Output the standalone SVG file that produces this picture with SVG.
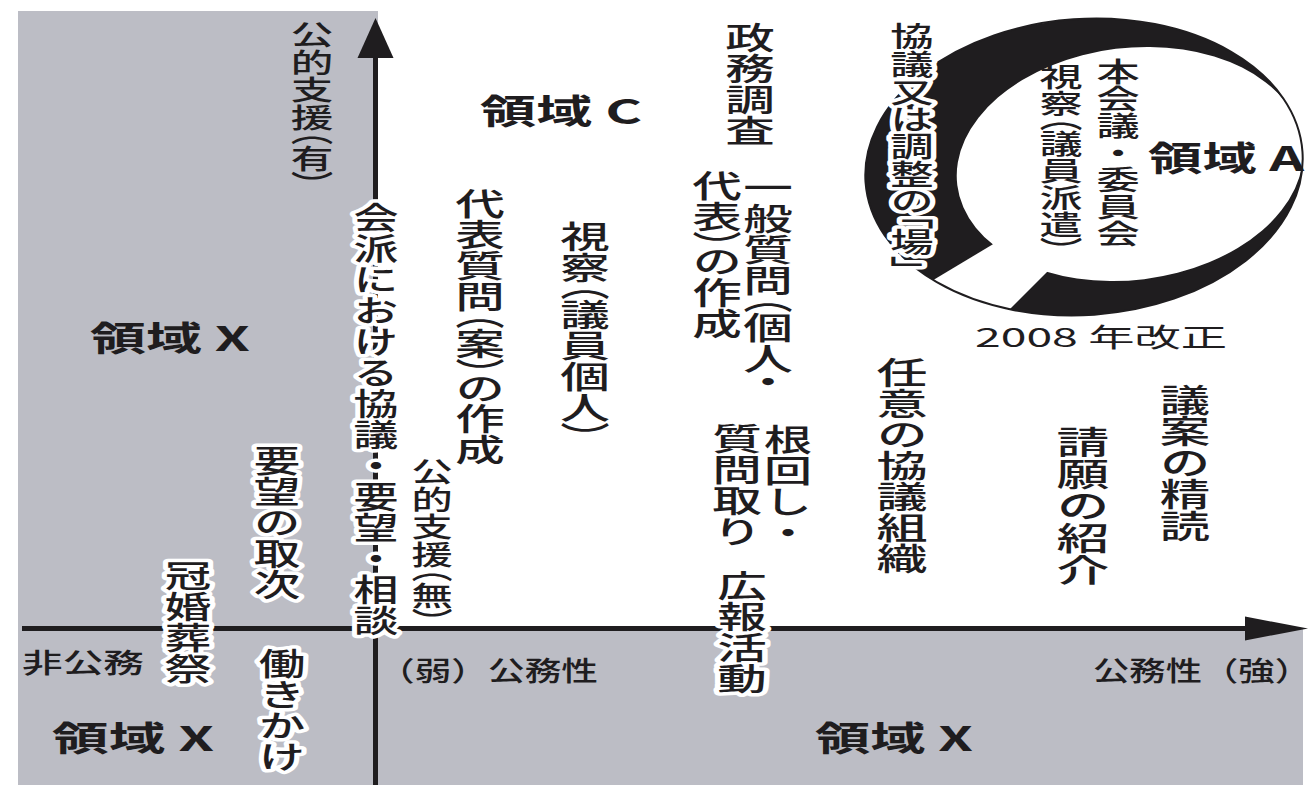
<svg xmlns="http://www.w3.org/2000/svg" width="1314" height="787" viewBox="0 0 1314 787">
<defs>
<style>
text{font-family:"Noto Sans CJK JP","Noto Sans CJK SC",sans-serif;fill:#1f1d1f;}
.v{writing-mode:vertical-rl;font-size:31px;font-weight:500;}
.p{font-feature-settings:"vpal" 1;}
.h{font-size:27px;font-weight:500;}
.b{font-size:34px;font-weight:700;}
.halo{stroke:#fff;stroke-width:7px;stroke-linejoin:round;paint-order:stroke fill;}
.gray{fill:#bcbdc5;}
.axis{stroke:#1f1d1f;stroke-width:5;fill:none;}
.ink{fill:#1f1d1f;}
</style>
<marker id="arrUp" markerUnits="userSpaceOnUse" markerWidth="40" markerHeight="36" refX="0" refY="18" orient="auto" viewBox="0 0 40 36" overflow="visible"><path d="M0,0 L40,18 L0,36 Z" class="ink"/></marker>
<marker id="arrRight" markerUnits="userSpaceOnUse" markerWidth="63" markerHeight="24" refX="0" refY="12" orient="auto" viewBox="0 0 63 24" overflow="visible"><path d="M0,0 L63,12 L0,24 Z" class="ink"/></marker>
</defs>
<rect x="0" y="0" width="1314" height="787" fill="#fff"/>
<g id="regions">
<rect class="gray" x="18" y="11" width="360" height="774"/>
<rect class="gray" x="18" y="628" width="1285" height="157"/>
</g>
<g id="connectors">
<line class="axis" x1="375.5" y1="785" x2="375.5" y2="58" marker-end="url(#arrUp)"/>
<line class="axis" x1="22" y1="628.5" x2="1245" y2="628.5" marker-end="url(#arrRight)"/>
</g>
<g id="ellipse-a">
<ellipse cx="1084" cy="167" rx="219" ry="148" transform="rotate(-4 1084 167)" class="ink"/>
<ellipse cx="1130" cy="164" rx="174" ry="116" transform="rotate(-7 1130 164)" fill="#fff"/>
<polygon points="1000,240 1053,266 1007,312 925,285" fill="#fff"/>
<ellipse cx="1084" cy="167" rx="219" ry="148" transform="rotate(-4 1084 167)" fill="none" stroke="#1f1d1f" stroke-width="2"/>
</g>
<g id="axis-labels">
<g id="n-kouteki-yu" transform="translate(312,21) scale(1.55,1)"><text class="v p" style="font-size:27.5px">公的支援（有）</text></g>
<text id="n-hikoumu" class="h" x="22" y="673" textLength="122" lengthAdjust="spacingAndGlyphs">非公務</text>
<text id="n-jaku" class="h" x="378" y="681" textLength="220" lengthAdjust="spacingAndGlyphs">（弱）公務性</text>
<text id="n-kyou" class="h" x="1093" y="681" textLength="218" lengthAdjust="spacingAndGlyphs">公務性（強）</text>
</g>
<g id="n-region-c"><text class="b" x="480" y="124" textLength="162" lengthAdjust="spacingAndGlyphs">領域 C</text></g>
<g id="n-region-x1"><text class="b" x="90" y="351" textLength="160" lengthAdjust="spacingAndGlyphs">領域 X</text></g>
<g id="n-region-x2"><text class="b" x="52" y="751" textLength="162" lengthAdjust="spacingAndGlyphs">領域 X</text></g>
<g id="n-region-x3"><text class="b" x="815" y="751" textLength="158" lengthAdjust="spacingAndGlyphs">領域 X</text></g>
<g id="n-region-a"><text class="b" x="1148" y="171" textLength="156" lengthAdjust="spacingAndGlyphs">領域 A</text></g>
<g id="n-2008"><text x="975" y="347" style="font-size:26px;font-weight:400" textLength="252" lengthAdjust="spacingAndGlyphs">2008 年改正</text></g>
<g id="n-kaiha" transform="translate(376,202) scale(1.45,1)"><text class="v halo">会派における協議・要望・相談</text></g>
<g id="n-daihyou" transform="translate(480,188) scale(1.6,1)"><text class="v p">代表質問（案）の作成</text></g>
<g id="n-shisatsu-kojin" transform="translate(585,221) scale(1.6,1)"><text class="v p">視察（議員個人）</text></g>
<g id="n-ippan" transform="translate(0,0)">
<g transform="translate(768,172) scale(1.6,1)"><text class="v p">一般質問（個人・</text></g>
<g transform="translate(717,170) scale(1.6,1)"><text class="v p">代表）の作成</text></g>
</g>
<g id="n-seimu" transform="translate(750,22) scale(1.6,1)"><text class="v">政務調査</text></g>
<g id="n-nemawashi">
<g transform="translate(788,424) scale(1.55,1)"><text class="v">根回し・</text></g>
<g transform="translate(737,423) scale(1.6,1)"><text class="v">質問取り</text></g>
</g>
<g id="n-kouhou" transform="translate(742,570) scale(1.6,1)"><text class="v halo">広報活動</text></g>
<g id="n-nini" transform="translate(902,357) scale(1.65,1)"><text class="v">任意の協議組織</text></g>
<g id="n-seigan" transform="translate(1083,426) scale(1.65,1)"><text class="v" style="font-size:32px">請願の紹介</text></g>
<g id="n-gian" transform="translate(1185,384) scale(1.6,1)"><text class="v" style="font-size:31.5px">議案の精読</text></g>
<g id="n-youbou" transform="translate(277,445) scale(1.5,1)"><text class="v halo">要望の取次</text></g>
<g id="n-kankon" transform="translate(188,560) scale(1.5,1)"><text class="v halo">冠婚葬祭</text></g>
<g id="n-hataraki" transform="translate(282,648) scale(1.5,1)"><text class="v halo">働きかけ</text></g>
<g id="n-kouteki-mu" transform="translate(432,458) scale(1.5,1)"><text class="v p halo" style="font-size:27.5px">公的支援（無）</text></g>
<g id="n-honkaigi" transform="translate(1118,58) scale(1.6,1)"><text class="v" style="font-size:27px">本会議・委員会</text></g>
<g id="n-shisatsu-haken" transform="translate(1061,63) scale(1.6,1)"><text class="v p" style="font-size:27px">視察（議員派遣）</text></g>
<g id="n-kyougi-ba" transform="translate(912,22) scale(1.55,1)"><text class="v p halo" style="font-size:28px">協議又は調整の「場」</text></g>
</svg>
